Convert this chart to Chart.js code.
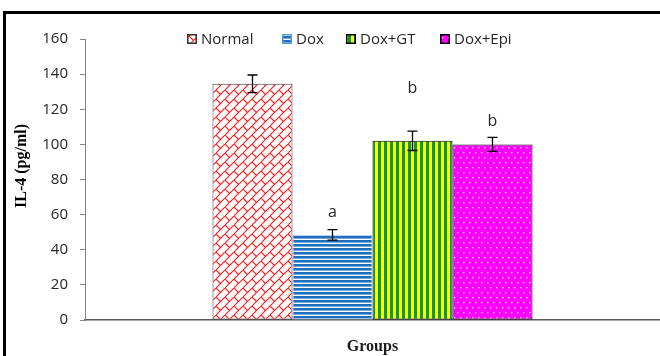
<!DOCTYPE html>
<html>
<head>
<meta charset="utf-8">
<script src="https://cdn.jsdelivr.net/npm/chart.js@4"></script>
<style>
  html, body { margin: 0; padding: 0; background: #ffffff; }
  #wrap { width: 660px; height: 356px; }
</style>
</head>
<body>
<div id="wrap"><canvas id="c" width="660" height="356"></canvas></div>
<script>
// IL-4 level per treatment group (mean ± SD) with significance letters
const groups = ['Normal', 'Dox', 'Dox+GT', 'Dox+Epi'];
const il4Mean = [134.5, 48.5, 102, 100];
const il4Err = [5, 3, 5.5, 4];
const sigLetters = ['', 'a', 'b', 'b'];
const yMin = 0, yMax = 160, yStep = 20;
const xTitle = 'Groups';
const yTitle = 'IL-4 (pg/ml)';

const canvas = document.getElementById('c');
const ctx = canvas.getContext('2d');

function tile(w, h, paint) {
  const t = document.createElement('canvas');
  t.width = w; t.height = h;
  const g = t.getContext('2d');
  paint(g, w, h);
  return ctx.createPattern(t, 'repeat');
}

// red diagonal brick
const brick = tile(9, 9, (g, w, h) => {
  g.fillStyle = '#ffffff'; g.fillRect(0, 0, w, h);
  g.strokeStyle = '#ff1a1a'; g.lineWidth = 1.1;
  g.beginPath();
  g.moveTo(-1, 10); g.lineTo(10, -1);
  g.moveTo(0, 0); g.lineTo(4.5, 4.5);
  g.stroke();
});
// blue horizontal stripes
const hStripes = tile(4, 4, (g, w, h) => {
  g.fillStyle = '#ffffff'; g.fillRect(0, 0, w, h);
  g.fillStyle = '#1f6fc0'; g.fillRect(0, 0, w, 2.6);
});
// green / yellow vertical stripes
const vStripes = tile(6, 6, (g, w, h) => {
  g.fillStyle = '#ffff00'; g.fillRect(0, 0, w, h);
  g.fillStyle = '#0a9a3c'; g.fillRect(0, 0, 3, h);
});
// magenta with white dots
const dots = tile(6, 10, (g, w, h) => {
  g.fillStyle = '#ff00ff'; g.fillRect(0, 0, w, h);
  g.fillStyle = '#ffd0ff';
  g.fillRect(1, 2, 1.4, 1.4);
  g.fillRect(4, 7, 1.4, 1.4);
});

const fills = [brick, hStripes, vStripes, dots];
const borders = ['#404040', '#8db4e2', '#000000', '#000000'];

const datasets = groups.map((name, i) => ({
  label: name,
  data: [il4Mean[i]],
  backgroundColor: fills[i],
  borderColor: borders[i],
  borderWidth: 1,
  borderSkipped: false,
  barPercentage: 1,
  categoryPercentage: 320 / 575
}));

// outer frame lines and the rotated value-axis title
const frame = {
  id: 'frame',
  afterDraw(chart) {
    const c = chart.ctx;
    c.save();
    c.fillStyle = '#000000';
    c.fillRect(3, 11, 657, 3);
    c.fillRect(3, 11, 3, 345);
    c.translate(22, 166);
    c.rotate(-Math.PI / 2);
    c.font = 'bold 16px "Liberation Serif", serif';
    c.textAlign = 'center';
    c.textBaseline = 'middle';
    c.fillText(yTitle, 0, 0);
    c.restore();
  }
};

const errorBars = {
  id: 'errorBars',
  afterDatasetsDraw(chart, args, opts) {
    const c = chart.ctx;
    const ys = chart.scales.y;
    c.save();
    chart.data.datasets.forEach((ds, i) => {
      const bar = chart.getDatasetMeta(i).data[0];
      const x = bar.x;
      const top = ys.getPixelForValue(il4Mean[i] + il4Err[i]);
      const bot = ys.getPixelForValue(il4Mean[i] - il4Err[i]);
      c.strokeStyle = '#000000';
      c.lineWidth = 1.3;
      c.beginPath();
      c.moveTo(x, top); c.lineTo(x, bot);
      c.moveTo(x - 5, top); c.lineTo(x + 5, top);
      c.moveTo(x - 5, bot); c.lineTo(x + 5, bot);
      c.stroke();
      if (sigLetters[i]) {
        c.fillStyle = '#262626';
        c.font = '16px "Open Sans", sans-serif';
        c.textAlign = 'center';
        c.textBaseline = 'bottom';
        c.fillText(sigLetters[i], x, top - opts.letterGap[i]);
      }
    });
    c.restore();
  }
};

const legendBoxes = {
  id: 'legendBoxes',
  afterDraw(chart, args, opts) {
    const c = chart.ctx;
    c.save();
    c.font = '15px "Open Sans", sans-serif';
    c.textBaseline = 'middle';
    c.textAlign = 'left';
    chart.data.datasets.forEach((ds, i) => {
      const bx = opts.x[i], by = opts.y;
      c.fillStyle = ds.backgroundColor;
      c.fillRect(bx, by, 10, 10);
      c.strokeStyle = i === 0 ? '#333333' : (i === 1 ? '#5b9bd5' : '#000000');
      c.lineWidth = 1.5;
      c.strokeRect(bx + 0.75, by + 0.75, 8.5, 8.5);
      c.fillStyle = '#262626';
      c.fillText(ds.label, bx + 14, by + 5.5);
    });
    c.restore();
  }
};

new Chart(canvas, {
  type: 'bar',
  data: { labels: [''], datasets },
  plugins: [frame, errorBars, legendBoxes],
  options: {
    responsive: false,
    animation: false,
    layout: { padding: { top: 39, right: 0, left: 0, bottom: 0 } },
    plugins: {
      legend: { display: false },
      tooltip: { enabled: false },
      errorBars: { letterGap: [0, 9, 35, 8] },
      legendBoxes: { x: [187, 282, 346, 440], y: 34 }
    },
    scales: {
      x: {
        afterFit(s) { s.height = 36; },
        ticks: { display: false },
        grid: { display: false },
        border: { display: true, color: '#595959', width: 1.5 },
        title: {
          display: true,
          text: xTitle,
          color: '#1a1a1a',
          font: { family: '"Liberation Serif", serif', size: 16, weight: 'bold' },
          padding: { top: 8, bottom: 0 }
        }
      },
      y: {
        min: yMin,
        max: yMax,
        afterFit(s) { s.width = 85; },
        ticks: {
          stepSize: yStep,
          color: '#262626',
          padding: 12,
          font: { family: '"Open Sans", sans-serif', size: 15 }
        },
        grid: { display: true, drawOnChartArea: false, drawTicks: true, tickLength: 5, color: '#868686' },
        border: { display: true, color: '#868686', width: 1 },
        title: { display: false }
      }
    }
  }
});
</script>
</body>
</html>
